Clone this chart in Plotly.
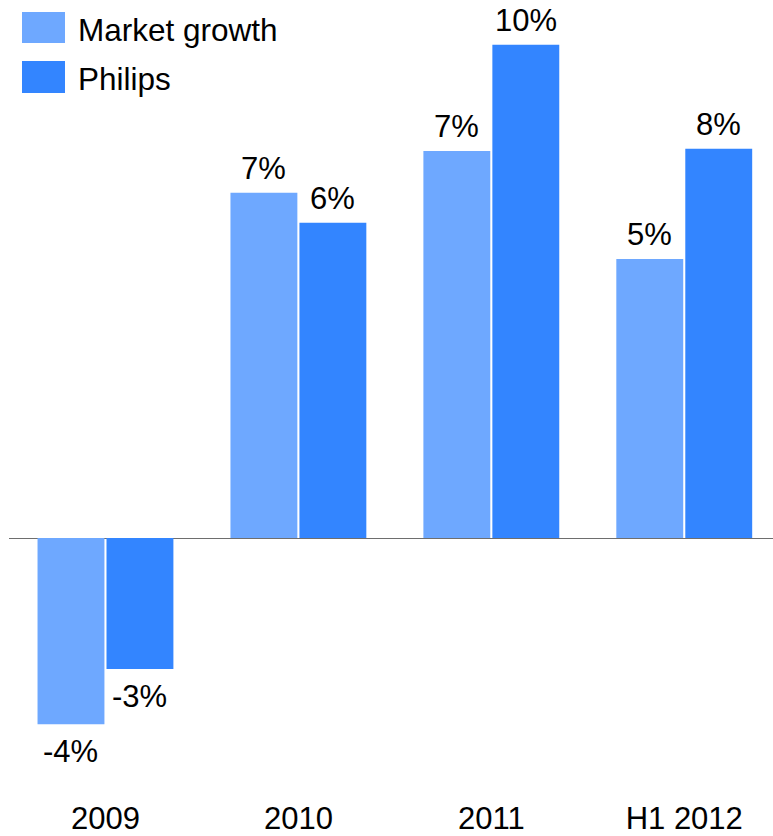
import plotly.graph_objects as go

categories = ["2009", "2010", "2011", "H1 2012"]
series_names = ["Market growth", "Philips"]
market_growth = [-3.6, 6.67, 7.48, 5.39]
philips = [-2.53, 6.09, 9.53, 7.52]
market_labels = ["-4%", "7%", "7%", "5%"]
philips_labels = ["-3%", "6%", "10%", "8%"]
colors = ["#6EA8FF", "#3385FF"]

FONT = "Liberation Sans, Arial, sans-serif"
W, H = 773, 836
ML, MR, MT, MB = 9, 0, 0, 42

fig = go.Figure()
series = [
    (series_names[0], market_growth, market_labels, colors[0], -34.5),
    (series_names[1], philips, philips_labels, colors[1], 34.5),
]
for name, vals, labels, col, dx in series:
    fig.add_trace(go.Bar(
        x=categories, y=vals, name=name,
        marker=dict(color=col, line=dict(width=0)),
        hoverinfo="skip", showlegend=False,
    ))
    # category axis: annotations placed by category index
    for i, (v, lab) in enumerate(zip(vals, labels)):
        pos = v >= 0
        fig.add_annotation(
            x=i, y=v, xref="x", yref="y", text=lab, showarrow=False,
            xshift=dx, yshift=5 if pos else -8,
            yanchor="bottom" if pos else "top", xanchor="center",
            font=dict(size=31, color="#000000", family=FONT),
        )

# manual legend (large swatches)
pw = W - ML - MR
ph = H - MT - MB
def px(x):
    return (x - ML) / pw
def py(y):
    return 1 - (y - MT) / ph

legend_rows = [(12, 43), (61, 93)]
for (y0, y1), name, col in zip(legend_rows, series_names, colors):
    fig.add_shape(type="rect", xref="paper", yref="paper",
                  x0=px(22), x1=px(65), y0=py(y1), y1=py(y0),
                  fillcolor=col, line=dict(width=0))
    fig.add_annotation(xref="paper", yref="paper", x=px(76), y=py((y0 + y1) / 2 + 2.5),
                       text=name, showarrow=False, xanchor="left", yanchor="middle",
                       font=dict(size=31.5, color="#000000", family=FONT))

zero_px = 538
scale = 51.75
ymax = (zero_px - MT) / scale
ymin = -(H - MB - zero_px) / scale

fig.update_layout(
    width=W, height=H,
    margin=dict(l=ML, r=MR, t=MT, b=MB, pad=0),
    paper_bgcolor="white", plot_bgcolor="white",
    barmode="group", bargap=0.285, bargroupgap=0.03,
    font=dict(family=FONT, size=31, color="#000000"),
    xaxis=dict(type="category", range=[-0.5, 3.46], showgrid=False, showline=False, ticks="",
               ticklabelstandoff=3,
               tickfont=dict(size=31, family=FONT, color="#000000"), fixedrange=True),
    yaxis=dict(range=[ymin, ymax], showgrid=False, showticklabels=False, ticks="",
               zeroline=True, zerolinecolor="#6E6E6E", zerolinewidth=1.2, fixedrange=True),
)

fig.write_html("out.html")
